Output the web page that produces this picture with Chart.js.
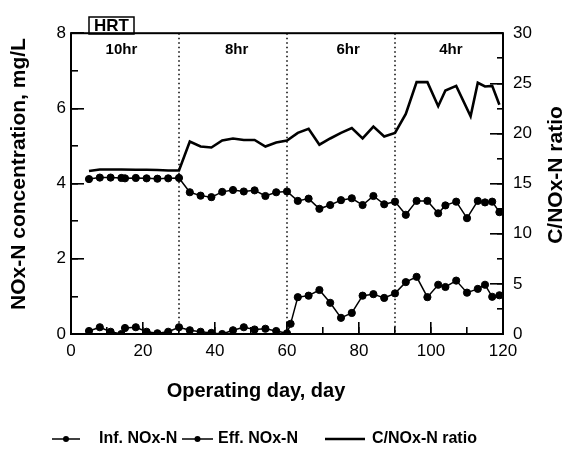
<!DOCTYPE html>
<html>
<head>
<meta charset="utf-8">
<title>NOx-N / HRT</title>
<script src="https://cdn.jsdelivr.net/npm/chart.js@4.4.1/dist/chart.umd.min.js"></script>
<style>
  html, body { margin: 0; padding: 0; background: #fff; }
  #wrap { width: 584px; height: 462px; position: relative; }
</style>
</head>
<body>
<div id="wrap"><canvas id="grafico"></canvas></div>
<script>
// dados
const infDays = [5, 8, 11, 14, 15, 18, 21, 24, 27, 30, 33, 36, 39, 42, 45, 48, 51, 54, 57, 60,
  63, 66, 69, 72, 75, 78, 81, 84, 87, 90, 93, 96, 99, 102, 104, 107, 110, 113, 115, 117, 119];
const infNOx = [4.12, 4.16, 4.16, 4.15, 4.14, 4.15, 4.14, 4.13, 4.14, 4.15, 3.77, 3.68, 3.64, 3.78, 3.83, 3.79, 3.82, 3.67, 3.77, 3.79,
  3.54, 3.60, 3.33, 3.43, 3.56, 3.61, 3.43, 3.67, 3.45, 3.52, 3.17, 3.54, 3.54, 3.21, 3.42, 3.52, 3.08, 3.54, 3.50, 3.52, 3.24];

const effDays = [5, 8, 11, 14, 15, 18, 21, 24, 27, 30, 33, 36, 39, 42, 45, 48, 51, 54, 57, 60, 61,
  63, 66, 69, 72, 75, 78, 81, 84, 87, 90, 93, 96, 99, 102, 104, 107, 110, 113, 115, 117, 119];
const effNOx = [0.08, 0.18, 0.06, 0.0, 0.16, 0.18, 0.06, 0.02, 0.06, 0.18, 0.10, 0.06, 0.03, 0.0, 0.10, 0.18, 0.12, 0.14, 0.08, 0.02, 0.27,
  0.98, 1.02, 1.17, 0.83, 0.43, 0.56, 1.02, 1.06, 0.96, 1.08, 1.38, 1.52, 0.98, 1.31, 1.25, 1.42, 1.10, 1.20, 1.31, 0.99, 1.03];

const ratioDays = [5, 8, 11, 14, 18, 21, 24, 27, 30, 33, 36, 39, 42, 45, 48, 51, 54, 57, 60,
  63, 66, 69, 72, 75, 78, 81, 84, 87, 90, 93, 96, 99, 102, 104, 107, 111, 113, 115, 117, 119];
const ratioCN = [16.25, 16.4, 16.4, 16.4, 16.38, 16.38, 16.35, 16.3, 16.3, 19.2, 18.7, 18.6, 19.3, 19.5, 19.35, 19.35, 18.7, 19.1, 19.3,
  20.06, 20.47, 18.88, 19.5, 20.06, 20.53, 19.5, 20.69, 19.69, 20.06, 21.94, 25.12, 25.12, 22.72, 24.28, 24.75, 21.72, 25.06, 24.69, 24.75, 22.87];

const hrtBreaks = [30, 60, 90];
const hrtLabels = ['10hr', '8hr', '6hr', '4hr'];
const hrtLabelDays = [14, 46, 77, 105.5];

const dayTicks = [0, 20, 40, 60, 80, 100, 120];
const dayMinorTicks = [0, 10, 20, 30, 40, 50, 60, 70, 80, 90, 100, 110, 120];
const concTicks = [0, 2, 4, 6, 8];
const concMinorTicks = [0, 1, 2, 3, 4, 5, 6, 7, 8];
const ratioTicks = [0, 5, 10, 15, 20, 25, 30];
const ratioMinorTicks = [0, 2.5, 5, 7.5, 10, 12.5, 15, 17.5, 20, 22.5, 25, 27.5, 30];

const FONTE = '"Liberation Sans", Arial, sans-serif';
Chart.defaults.font.family = FONTE;
Chart.defaults.color = '#000';

const pontos = (xs, ys) => xs.map((d, i) => ({ x: d, y: ys[i] }));
const fixarTicks = lista => scale => { scale.ticks = lista.map(v => ({ value: v })); };

// eixo com ticks para dentro do gráfico
function eixo(pos, min, max, lista, tickLen, extra) {
  return Object.assign({
    type: 'linear',
    position: pos,
    min, max,
    afterBuildTicks: fixarTicks(lista),
    border: { display: false },
    grid: { drawOnChartArea: false, tickLength: tickLen, color: '#000', lineWidth: 1.6 },
    ticks: { display: false, autoSkip: false }
  }, extra);
}

const extras = {
  id: 'extras',
  beforeDatasetsDraw(chart) {
    const { ctx, chartArea: a, scales: { x } } = chart;
    ctx.save();
    ctx.strokeStyle = '#000';
    ctx.lineWidth = 1.5;
    ctx.setLineDash([1.5, 3]);
    hrtBreaks.forEach(d => {
      const px = x.getPixelForValue(d);
      ctx.beginPath();
      ctx.moveTo(px, a.top);
      ctx.lineTo(px, a.bottom);
      ctx.stroke();
    });
    ctx.restore();
  },
  afterDraw(chart) {
    const { ctx, chartArea: a, scales: { x } } = chart;
    ctx.save();
    ctx.fillStyle = '#000';
    ctx.strokeStyle = '#000';

    // moldura
    ctx.lineWidth = 2;
    ctx.strokeRect(a.left, a.top, a.right - a.left, a.bottom - a.top);

    // caixa HRT
    ctx.lineWidth = 1.5;
    ctx.strokeRect(89, 17, 45, 17);
    ctx.font = 'bold 17px ' + FONTE;
    ctx.textAlign = 'center';
    ctx.textBaseline = 'middle';
    ctx.fillText('HRT', 111.5, 26.5);

    // rótulos dos períodos
    ctx.font = 'bold 15px ' + FONTE;
    hrtLabels.forEach((t, i) => ctx.fillText(t, x.getPixelForValue(hrtLabelDays[i]), 50));

    // título do eixo x
    ctx.font = 'bold 20px ' + FONTE;
    ctx.textBaseline = 'alphabetic';
    ctx.fillText('Operating day, day', 256, 397);

    // títulos verticais
    ctx.textBaseline = 'middle';
    ctx.font = 'bold 21px ' + FONTE;
    ctx.save();
    ctx.translate(19, 174);
    ctx.rotate(-Math.PI / 2);
    ctx.fillText('NOx-N concentration, mg/L', 0, 0);
    ctx.restore();
    ctx.save();
    ctx.translate(556, 175);
    ctx.rotate(-Math.PI / 2);
    ctx.fillText('C/NOx-N ratio', 0, 0);
    ctx.restore();

    // legenda
    const itens = [
      { x0: 52, len: 28, tx: 99 },
      { x0: 182, len: 31, tx: 218 },
      { x0: 325, len: 40, tx: 372 }
    ];
    const ly = 439;
    ctx.font = 'bold 16px ' + FONTE;
    ctx.textAlign = 'left';
    chart.data.datasets.forEach((ds, i) => {
      const it = itens[i];
      ctx.lineWidth = ds.borderWidth;
      ctx.beginPath();
      ctx.moveTo(it.x0, ly);
      ctx.lineTo(it.x0 + it.len, ly);
      ctx.stroke();
      if (ds.pointRadius > 0) {
        ctx.beginPath();
        ctx.arc(it.x0 + it.len / 2, ly, 3, 0, Math.PI * 2);
        ctx.fill();
      }
      ctx.fillText(ds.label, it.tx, ly);
    });
    ctx.restore();
  }
};

new Chart(document.getElementById('grafico'), {
  type: 'line',
  data: {
    datasets: [
      {
        label: 'Inf. NOx-N',
        data: pontos(infDays, infNOx),
        yAxisID: 'y',
        borderColor: '#000',
        backgroundColor: '#000',
        borderWidth: 1.5,
        pointRadius: 3.6,
        pointBorderWidth: 1
      },
      {
        label: 'Eff. NOx-N',
        data: pontos(effDays, effNOx),
        yAxisID: 'y',
        borderColor: '#000',
        backgroundColor: '#000',
        borderWidth: 1.5,
        pointRadius: 3.6,
        pointBorderWidth: 1
      },
      {
        label: 'C/NOx-N ratio',
        data: pontos(ratioDays, ratioCN),
        yAxisID: 'y1',
        borderColor: '#000',
        borderWidth: 2.6,
        pointRadius: 0
      }
    ]
  },
  options: {
    responsive: true,
    maintainAspectRatio: false,
    animation: false,
    layout: { padding: { top: 14, left: 0, right: 0, bottom: 0 } },
    plugins: { legend: { display: false }, tooltip: { enabled: false } },
    scales: {
      x: eixo('bottom', 0, 120, dayTicks, -12, {
        weight: 1,
        ticks: { display: true, autoSkip: false, padding: 19, maxRotation: 0, font: { size: 17 } },
        afterFit: s => { s.height = 128; }
      }),
      xMinor: eixo('bottom', 0, 120, dayMinorTicks, -7, {
        weight: 0,
        afterFit: s => { s.height = 0; }
      }),
      y: eixo('left', 0, 8, concTicks, -13, {
        weight: 1,
        ticks: { display: true, padding: 18, font: { size: 17 } },
        afterFit: s => { s.width = 71; }
      }),
      yMinor: eixo('left', 0, 8, concMinorTicks, -7, {
        weight: 0,
        afterFit: s => { s.width = 0; }
      }),
      y1: eixo('right', 0, 30, ratioTicks, -13, {
        weight: 1,
        ticks: { display: true, padding: 23, font: { size: 17 } },
        afterFit: s => { s.width = 81; }
      }),
      y1Minor: eixo('right', 0, 30, ratioMinorTicks, -6, {
        weight: 0,
        afterFit: s => { s.width = 0; }
      })
    }
  },
  plugins: [extras]
});
</script>
</body>
</html>
